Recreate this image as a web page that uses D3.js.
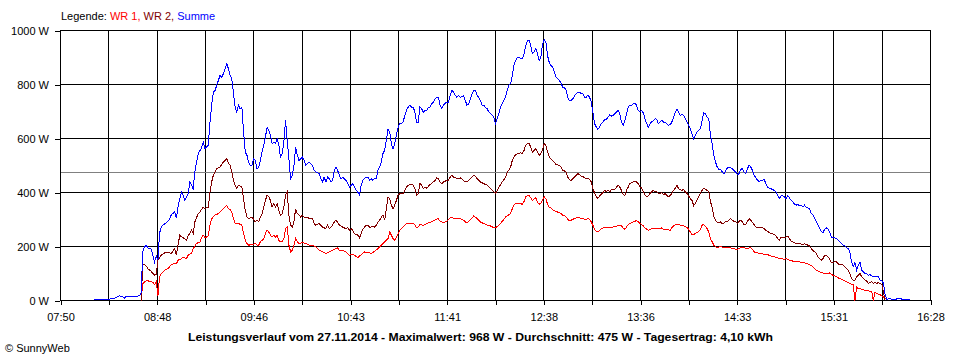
<!DOCTYPE html>
<html>
<head>
<meta charset="utf-8">
<script src="https://cdn.jsdelivr.net/npm/d3@7"></script>
<style>
  body { margin: 0; background: #fff; }
  svg { display: block; font-family: "Liberation Sans", Arial, sans-serif; font-size: 11px; }
  .grid line { stroke: #000; shape-rendering: crispEdges; }
  .axis path, .axis line { stroke: #000; shape-rendering: crispEdges; }
  .axis text { fill: #000; font-family: "Liberation Sans", Arial, sans-serif; font-size: 11px; }
  .trace { fill: none; stroke-width: 1; shape-rendering: crispEdges; }
</style>
</head>
<body>
<div id="chart"></div>
<script>
const seriesNames = ['WR 1', 'WR 2', 'Summe'];
const xTickLabels = ['07:50', '08:48', '09:46', '10:43', '11:41', '12:38', '13:36', '14:33', '15:31', '16:28'];
const yTicks = [0, 200, 400, 600, 800, 1000];
const averageWatts = 475;
const titleText = 'Leistungsverlauf vom 27.11.2014 - Maximalwert: 968 W - Durchschnitt: 475 W - Tagesertrag: 4,10 kWh';

// WR 1 (time, watts).
const wr1 = [["08:38",0],["08:39",63],["08:40",68],["08:41",73],["08:42",73],["08:44",69],["08:45",67],["08:46",59],["08:47",69],["08:48",17],["08:49",88],["08:50",100],["08:52",112],["08:54",118],["08:56",133],["08:58",137],["08:59",136],["09:00",149],["09:02",155],["09:03",160],["09:05",155],["09:06",168],["09:08",176],["09:09",192],["09:11",211],["09:13",217],["09:14",232],["09:15",242],["09:16",232],["09:18",239],["09:19",279],["09:20",303],["09:22",316],["09:24",322],["09:26",334],["09:28",346],["09:29",353],["09:30",340],["09:31",338],["09:32",328],["09:33",303],["09:34",285],["09:36",285],["09:38",279],["09:39",248],["09:40",223],["09:41",211],["09:42",205],["09:44",207],["09:46",211],["09:47",205],["09:48",205],["09:49",217],["09:50",223],["09:51",229],["09:52",248],["09:53",260],["09:54",254],["09:55",242],["09:56",235],["09:57",242],["09:58",235],["09:59",242],["10:00",223],["10:01",217],["10:02",219],["10:03",229],["10:04",266],["10:05",272],["10:06",205],["10:07",180],["10:08",186],["10:09",205],["10:10",229],["10:11",217],["10:12",211],["10:14",215],["10:16",211],["10:18",205],["10:20",205],["10:22",199],["10:24",186],["10:26",180],["10:28",174],["10:30",180],["10:32",186],["10:34",192],["10:35",195],["10:36",186],["10:38",186],["10:40",180],["10:41",174],["10:42",168],["10:43",170],["10:45",168],["10:47",159],["10:48",164],["10:49",170],["10:51",180],["10:53",178],["10:55",174],["10:57",182],["10:59",192],["11:01",205],["11:03",217],["11:05",229],["11:06",254],["11:07",242],["11:08",229],["11:09",223],["11:10",235],["11:11",248],["11:12",260],["11:14",272],["11:15",279],["11:16",285],["11:18",287],["11:20",285],["11:21",281],["11:22",269],["11:23",272],["11:24",281],["11:26",279],["11:28",285],["11:30",289],["11:32",295],["11:34",301],["11:35",303],["11:36",293],["11:38",289],["11:40",293],["11:42",306],["11:43",309],["11:44",303],["11:46",303],["11:48",303],["11:50",297],["11:51",291],["11:52",289],["11:53",293],["11:54",299],["11:55",306],["11:56",313],["11:57",309],["11:58",303],["12:00",291],["12:02",285],["12:04",279],["12:06",276],["12:08",270],["12:09",269],["12:11",279],["12:13",293],["12:15",309],["12:17",318],["12:18",322],["12:19",340],["12:20",353],["12:21",359],["12:22",361],["12:23",359],["12:24",359],["12:25",356],["12:26",367],["12:27",384],["12:28",388],["12:29",388],["12:30",380],["12:31",371],["12:32",377],["12:33",380],["12:34",365],["12:35",356],["12:36",361],["12:37",371],["12:38",384],["12:39",377],["12:40",356],["12:41",346],["12:42",342],["12:43",336],["12:44",334],["12:45",330],["12:47",325],["12:48",322],["12:49",316],["12:50",316],["12:51",309],["12:52",301],["12:53",295],["12:54",297],["12:55",301],["12:56",303],["12:57",306],["12:58",307],["12:59",306],["13:00",303],["13:01",303],["13:02",301],["13:03",301],["13:04",303],["13:05",301],["13:06",291],["13:07",279],["13:08",264],["13:09",256],["13:10",254],["13:11",260],["13:12",266],["13:13",269],["13:15",269],["13:17",272],["13:19",272],["13:21",275],["13:22",279],["13:23",279],["13:24",276],["13:25",269],["13:26",264],["13:27",272],["13:28",281],["13:29",285],["13:30",289],["13:31",291],["13:32",293],["13:33",297],["13:34",291],["13:35",285],["13:36",282],["13:37",276],["13:38",269],["13:39",264],["13:40",260],["13:41",264],["13:43",266],["13:45",266],["13:47",266],["13:48",269],["13:49",264],["13:51",264],["13:53",260],["13:54",269],["13:55",276],["13:56",281],["13:57",283],["13:58",281],["13:59",279],["14:01",276],["14:03",270],["14:04",264],["14:05",254],["14:06",245],["14:07",244],["14:08",248],["14:09",252],["14:10",256],["14:11",264],["14:12",279],["14:13",281],["14:14",275],["14:15",266],["14:16",254],["14:17",229],["14:18",217],["14:19",205],["14:20",199],["14:21",196],["14:23",201],["14:25",195],["14:27",197],["14:29",195],["14:31",192],["14:33",189],["14:35",195],["14:37",195],["14:39",192],["14:40",195],["14:41",195],["14:42",189],["14:43",180],["14:45",176],["14:47",174],["14:49",171],["14:51",170],["14:53",165],["14:55",162],["14:57",158],["14:59",155],["15:01",153],["15:02",155],["15:04",149],["15:06",146],["15:08",143],["15:10",143],["15:12",141],["15:14",137],["15:16",133],["15:18",125],["15:20",112],["15:22",106],["15:24",102],["15:26",100],["15:28",102],["15:29",96],["15:31",91],["15:33",84],["15:35",79],["15:37",72],["15:39",67],["15:41",59],["15:42",59],["15:43",0],["15:44",51],["15:45",44],["15:47",42],["15:49",38],["15:51",36],["15:53",32],["15:54",0],["15:55",32],["15:56",26],["15:58",22],["15:59",17],["16:00",14],["16:01",7],["16:02",3]];

// WR 2.
const wr2 = [["08:38",0],["08:39",131],["08:40",133],["08:41",128],["08:42",118],["08:44",108],["08:45",100],["08:46",94],["08:47",95],["08:48",149],["08:50",168],["08:52",176],["08:54",180],["08:56",174],["08:58",192],["08:59",168],["09:00",205],["09:01",242],["09:02",236],["09:04",229],["09:05",223],["09:06",239],["09:08",260],["09:09",248],["09:10",291],["09:12",322],["09:13",328],["09:15",346],["09:16",340],["09:18",346],["09:19",402],["09:20",439],["09:21",464],["09:23",488],["09:25",494],["09:27",513],["09:29",525],["09:30",507],["09:31",501],["09:32",476],["09:33",445],["09:34",427],["09:35",414],["09:36",427],["09:38",420],["09:39",377],["09:40",334],["09:41",309],["09:42",303],["09:44",309],["09:46",291],["09:47",297],["09:48",291],["09:49",309],["09:50",322],["09:51",346],["09:52",371],["09:53",390],["09:54",384],["09:55",371],["09:56",346],["09:57",358],["09:58",346],["09:59",358],["10:00",334],["10:01",316],["10:02",322],["10:03",346],["10:04",390],["10:05",402],["10:06",316],["10:07",279],["10:08",272],["10:09",291],["10:10",340],["10:11",322],["10:12",316],["10:13",309],["10:14",316],["10:15",309],["10:16",309],["10:17",309],["10:18",303],["10:20",303],["10:21",285],["10:22",279],["10:24",285],["10:25",279],["10:26",272],["10:28",266],["10:29",279],["10:30",266],["10:31",272],["10:32",279],["10:33",291],["10:34",297],["10:35",291],["10:36",279],["10:38",272],["10:40",266],["10:41",272],["10:42",260],["10:43",266],["10:44",260],["10:45",248],["10:47",242],["10:48",232],["10:49",248],["10:50",264],["10:51",272],["10:52",279],["10:53",279],["10:54",272],["10:55",272],["10:56",275],["10:57",272],["10:58",279],["10:59",291],["11:00",297],["11:01",309],["11:02",316],["11:03",297],["11:04",340],["11:05",384],["11:06",377],["11:07",353],["11:08",340],["11:09",353],["11:10",371],["11:11",390],["11:12",396],["11:14",396],["11:15",408],["11:16",420],["11:17",427],["11:18",429],["11:19",430],["11:20",427],["11:21",414],["11:22",390],["11:23",396],["11:24",433],["11:25",429],["11:26",414],["11:27",420],["11:28",416],["11:30",429],["11:31",433],["11:33",445],["11:34",454],["11:35",451],["11:36",439],["11:37",433],["11:38",439],["11:40",445],["11:41",445],["11:42",457],["11:43",464],["11:44",457],["11:45",457],["11:46",451],["11:48",454],["11:50",445],["11:51",439],["11:52",439],["11:53",445],["11:54",451],["11:55",457],["11:56",464],["11:57",461],["11:58",451],["12:00",439],["12:02",433],["12:04",427],["12:06",414],["12:07",408],["12:08",402],["12:09",396],["12:10",408],["12:11",420],["12:12",429],["12:13",439],["12:14",448],["12:15",457],["12:16",476],["12:17",482],["12:18",494],["12:19",519],["12:20",532],["12:21",540],["12:22",544],["12:23",544],["12:24",547],["12:25",544],["12:26",556],["12:27",575],["12:28",581],["12:29",581],["12:30",569],["12:31",550],["12:32",556],["12:33",562],["12:34",550],["12:35",538],["12:36",544],["12:37",556],["12:38",581],["12:39",575],["12:40",550],["12:41",532],["12:42",525],["12:43",519],["12:44",513],["12:45",503],["12:47",501],["12:48",494],["12:49",482],["12:50",480],["12:51",476],["12:52",457],["12:53",448],["12:54",445],["12:55",451],["12:56",456],["12:57",464],["12:58",470],["12:59",466],["13:00",461],["13:01",461],["13:02",454],["13:03",451],["13:04",454],["13:05",448],["13:06",439],["13:07",414],["13:08",398],["13:09",385],["13:10",378],["13:11",388],["13:12",394],["13:13",400],["13:14",408],["13:15",403],["13:16",408],["13:17",403],["13:18",410],["13:19",410],["13:20",411],["13:21",420],["13:22",427],["13:23",420],["13:24",408],["13:25",392],["13:26",390],["13:27",408],["13:28",420],["13:29",433],["13:30",436],["13:31",439],["13:32",441],["13:33",439],["13:34",433],["13:35",420],["13:36",416],["13:37",402],["13:38",390],["13:39",384],["13:40",388],["13:41",396],["13:42",402],["13:43",408],["13:44",403],["13:45",402],["13:46",396],["13:47",396],["13:48",400],["13:49",392],["13:50",396],["13:51",390],["13:52",384],["13:53",390],["13:54",396],["13:55",408],["13:56",416],["13:57",427],["13:58",414],["13:59",411],["14:00",408],["14:01",411],["14:02",402],["14:03",396],["14:04",388],["14:05",377],["14:06",371],["14:07",351],["14:08",359],["14:09",371],["14:10",384],["14:11",396],["14:12",408],["14:13",416],["14:14",411],["14:15",408],["14:16",402],["14:17",365],["14:18",346],["14:19",309],["14:20",297],["14:21",291],["14:22",289],["14:23",291],["14:24",285],["14:25",287],["14:26",293],["14:27",291],["14:28",299],["14:29",303],["14:30",297],["14:31",293],["14:32",291],["14:33",285],["14:34",293],["14:35",297],["14:36",291],["14:37",281],["14:38",281],["14:39",293],["14:40",303],["14:41",297],["14:42",289],["14:43",281],["14:44",272],["14:45",272],["14:46",272],["14:47",269],["14:48",269],["14:49",266],["14:50",260],["14:51",256],["14:52",252],["14:53",248],["14:54",248],["14:55",244],["14:56",239],["14:57",229],["14:58",223],["14:59",233],["15:00",235],["15:01",232],["15:02",235],["15:03",239],["15:04",229],["15:05",219],["15:06",217],["15:07",215],["15:08",211],["15:10",211],["15:12",207],["15:13",211],["15:14",207],["15:15",205],["15:16",202],["15:17",192],["15:18",186],["15:19",180],["15:20",174],["15:21",162],["15:22",155],["15:23",149],["15:24",155],["15:25",168],["15:26",168],["15:27",162],["15:28",153],["15:29",141],["15:30",141],["15:31",143],["15:32",143],["15:33",136],["15:34",133],["15:35",133],["15:36",131],["15:37",125],["15:38",118],["15:39",112],["15:40",100],["15:41",81],["15:42",75],["15:43",75],["15:44",88],["15:45",94],["15:46",100],["15:47",88],["15:48",81],["15:49",75],["15:50",72],["15:51",63],["15:52",67],["15:53",69],["15:54",63],["15:55",67],["15:56",63],["15:57",67],["15:58",63],["15:59",60],["16:00",32],["16:01",0]];

// Summe.
const summe = [["08:10",4],["08:16",4],["08:19",4],["08:20",7],["08:23",10],["08:25",17],["08:27",15],["08:28",8],["08:29",14],["08:32",15],["08:35",16],["08:37",17],["08:38",28],["08:39",180],["08:40",198],["08:41",205],["08:42",195],["08:44",190],["08:45",168],["08:46",143],["08:47",165],["08:48",150],["08:49",250],["08:50",272],["08:51",279],["08:53",288],["08:55",301],["08:56",318],["08:58",328],["08:59",306],["09:00",346],["09:01",377],["09:02",402],["09:03",390],["09:04",371],["09:06",396],["09:07",439],["09:09",414],["09:10",476],["09:11",513],["09:12",544],["09:14",565],["09:15",587],["09:16",562],["09:18",575],["09:19",661],["09:20",723],["09:21",772],["09:22",778],["09:23",797],["09:24",815],["09:25",834],["09:26",827],["09:27",840],["09:28",858],["09:29",877],["09:30",858],["09:31",834],["09:32",821],["09:33",766],["09:34",716],["09:35",698],["09:36",723],["09:37",710],["09:38",716],["09:39",624],["09:40",550],["09:41",538],["09:42",513],["09:43",501],["09:44",501],["09:45",525],["09:46",519],["09:47",488],["09:48",494],["09:49",519],["09:50",550],["09:51",575],["09:52",605],["09:53",642],["09:54",630],["09:55",612],["09:56",581],["09:57",587],["09:58",581],["09:59",599],["10:00",575],["10:01",531],["10:02",544],["10:03",587],["10:04",667],["10:05",593],["10:06",525],["10:07",451],["10:08",464],["10:09",501],["10:10",568],["10:11",538],["10:12",519],["10:13",525],["10:14",531],["10:15",519],["10:16",501],["10:17",507],["10:18",513],["10:19",507],["10:20",501],["10:21",482],["10:22",476],["10:24",470],["10:25",451],["10:26",439],["10:27",457],["10:28",439],["10:29",457],["10:30",451],["10:31",439],["10:32",445],["10:33",482],["10:34",494],["10:35",482],["10:36",464],["10:37",451],["10:38",457],["10:40",445],["10:41",433],["10:42",420],["10:44",433],["10:45",420],["10:46",408],["10:47",402],["10:48",390],["10:49",427],["10:50",445],["10:52",457],["10:53",457],["10:54",445],["10:55",451],["10:56",445],["10:57",451],["10:58",451],["10:59",482],["11:00",494],["11:01",513],["11:02",544],["11:03",556],["11:04",593],["11:05",636],["11:06",624],["11:07",581],["11:08",562],["11:09",581],["11:10",612],["11:11",642],["11:12",654],["11:13",654],["11:14",661],["11:15",686],["11:16",704],["11:17",716],["11:18",723],["11:19",716],["11:20",716],["11:21",698],["11:22",661],["11:23",661],["11:24",716],["11:25",710],["11:26",698],["11:27",704],["11:28",704],["11:29",716],["11:30",716],["11:31",728],["11:32",735],["11:33",747],["11:34",753],["11:35",753],["11:36",723],["11:37",710],["11:38",723],["11:39",730],["11:40",735],["11:41",735],["11:42",760],["11:43",778],["11:44",772],["11:45",760],["11:46",753],["11:47",760],["11:48",753],["11:49",755],["11:50",760],["11:51",741],["11:52",723],["11:53",728],["11:54",747],["11:55",766],["11:56",778],["11:57",778],["11:58",760],["11:59",753],["12:00",741],["12:01",723],["12:02",723],["12:03",716],["12:04",710],["12:05",698],["12:06",692],["12:07",686],["12:08",679],["12:09",655],["12:10",673],["12:11",692],["12:12",716],["12:13",729],["12:14",741],["12:15",753],["12:16",778],["12:17",797],["12:18",803],["12:19",834],["12:20",871],["12:21",889],["12:22",901],["12:23",901],["12:24",897],["12:25",895],["12:26",914],["12:27",944],["12:28",963],["12:29",963],["12:30",944],["12:31",914],["12:32",920],["12:33",932],["12:34",914],["12:35",889],["12:36",901],["12:37",950],["12:38",966],["12:39",957],["12:40",907],["12:41",882],["12:42",870],["12:43",864],["12:44",846],["12:45",827],["12:46",821],["12:47",815],["12:48",806],["12:49",790],["12:50",790],["12:51",778],["12:52",753],["12:53",741],["12:54",741],["12:55",747],["12:56",757],["12:57",766],["12:58",772],["12:59",772],["13:00",766],["13:01",766],["13:02",753],["13:03",753],["13:04",760],["13:05",753],["13:06",735],["13:07",698],["13:08",655],["13:09",642],["13:10",634],["13:11",642],["13:12",655],["13:13",661],["13:14",671],["13:15",671],["13:16",679],["13:17",688],["13:18",683],["13:19",686],["13:20",692],["13:21",698],["13:22",704],["13:23",692],["13:24",661],["13:25",649],["13:26",667],["13:27",692],["13:28",716],["13:29",724],["13:30",722],["13:31",728],["13:32",732],["13:33",722],["13:34",704],["13:35",700],["13:36",704],["13:37",695],["13:38",673],["13:39",655],["13:40",642],["13:41",655],["13:42",661],["13:43",667],["13:44",673],["13:45",671],["13:46",655],["13:47",661],["13:48",667],["13:49",661],["13:50",661],["13:51",655],["13:52",649],["13:53",651],["13:54",661],["13:55",679],["13:56",698],["13:57",708],["13:58",698],["13:59",686],["14:00",688],["14:01",686],["14:02",673],["14:03",661],["14:04",649],["14:05",636],["14:06",618],["14:07",599],["14:08",612],["14:09",624],["14:10",630],["14:11",636],["14:12",667],["14:13",695],["14:14",692],["14:15",679],["14:16",673],["14:17",612],["14:18",581],["14:19",538],["14:20",513],["14:21",494],["14:22",486],["14:23",486],["14:24",476],["14:25",470],["14:26",479],["14:27",491],["14:28",494],["14:29",491],["14:30",488],["14:31",482],["14:32",476],["14:33",466],["14:34",470],["14:35",486],["14:36",488],["14:37",476],["14:38",470],["14:39",488],["14:40",501],["14:41",494],["14:42",482],["14:43",464],["14:44",454],["14:45",445],["14:46",441],["14:47",445],["14:48",445],["14:49",448],["14:50",433],["14:51",420],["14:52",416],["14:53",414],["14:54",411],["14:55",408],["14:56",403],["14:57",390],["14:58",377],["14:59",388],["15:00",388],["15:01",384],["15:02",377],["15:03",390],["15:04",380],["15:05",371],["15:06",365],["15:07",358],["15:08",353],["15:09",356],["15:10",351],["15:11",353],["15:12",346],["15:13",353],["15:14",346],["15:15",343],["15:16",340],["15:17",322],["15:18",316],["15:19",306],["15:20",291],["15:21",279],["15:22",266],["15:23",256],["15:24",252],["15:25",264],["15:26",269],["15:27",264],["15:28",254],["15:29",235],["15:30",233],["15:31",232],["15:32",229],["15:33",223],["15:34",217],["15:35",211],["15:36",205],["15:37",202],["15:38",195],["15:39",192],["15:40",180],["15:41",143],["15:42",125],["15:43",141],["15:44",113],["15:45",131],["15:46",143],["15:47",113],["15:48",106],["15:49",100],["15:50",100],["15:51",94],["15:52",96],["15:53",91],["15:54",88],["15:55",91],["15:56",88],["15:57",88],["15:58",75],["15:59",75],["16:00",63],["16:01",20],["16:02",5],["16:04",7],["16:05",5],["16:07",5],["16:10",7],["16:11",5],["16:16",4]];

function createChart(el) {
  const width = 960;
  const height = 360;
  const left = 60, right = 930, top = 30, bottom = 300;
  const colors = ['#ff0000', '#800000', '#0000ff'];

  let parse = d3.timeParse('%H:%M');
  let start = parse(xTickLabels[0]);
  let end = parse(xTickLabels[xTickLabels.length - 1]);

  // Clear chart.
  d3.select(el).html(null);

  let svg = d3.select(el)
    .append('svg')
    .attr('width', width)
    .attr('height', height);

  svg.append('rect')
    .attr('width', width)
    .attr('height', height)
    .attr('fill', '#fff');

  let x = d3.scaleTime().domain([start, end]).range([left + 0.5, right + 0.5]);
  let y = d3.scaleLinear().domain([0, 1000]).range([bottom + 0.5, top + 0.5]);

  // 18 equal steps between first and last label, labelled every other one.
  let gridTimes = d3.range(19).map(i => new Date(+start + i * (end - start) / 18));

  let grid = svg.append('g').attr('class', 'grid');

  grid.selectAll('line.h')
    .data(yTicks)
    .enter()
    .append('line')
      .attr('class', 'h')
      .attr('x1', left)
      .attr('x2', right + 1)
      .attr('y1', d => y(d))
      .attr('y2', d => y(d));

  grid.selectAll('line.v')
    .data(gridTimes)
    .enter()
    .append('line')
      .attr('class', 'v')
      .attr('x1', d => x(d))
      .attr('x2', d => x(d))
      .attr('y1', top)
      .attr('y2', bottom);

  // Average line.
  svg.append('line')
    .attr('x1', left + 1)
    .attr('x2', right)
    .attr('y1', y(averageWatts))
    .attr('y2', y(averageWatts))
    .attr('stroke', '#808080')
    .attr('shape-rendering', 'crispEdges');

  let xAxis = d3.axisBottom(x)
    .tickValues(gridTimes)
    .tickSize(5)
    .tickSizeOuter(0)
    .tickPadding(8)
    .tickFormat((d, i) => i % 2 === 0 ? xTickLabels[i / 2] : '');

  let yAxis = d3.axisLeft(y)
    .tickValues(yTicks)
    .tickSize(5)
    .tickSizeOuter(0)
    .tickPadding(6)
    .tickFormat(d => `${d} W`);

  svg.append('g')
    .attr('class', 'axis')
    .attr('transform', `translate(0,${bottom})`)
    .call(xAxis);

  svg.append('g')
    .attr('class', 'axis')
    .attr('transform', `translate(${left},0)`)
    .call(yAxis);

  // Traces: WR 1, WR 2, then Summe on top.
  let line = d3.line()
    .x(d => x(parse(d[0])))
    .y(d => y(d[1]));

  svg.selectAll('path.trace')
    .data([wr1, wr2, summe])
    .enter()
    .append('path')
      .attr('class', 'trace')
      .attr('stroke', (d, i) => colors[i])
      .attr('d', line);

  // Legend.
  let legend = svg.append('text')
    .attr('x', 61)
    .attr('y', 20);
  legend.append('tspan').attr('fill', '#000').text('Legende: ');
  seriesNames.forEach((name, i) => {
    legend.append('tspan')
      .attr('fill', colors[i])
      .text(i < seriesNames.length - 1 ? `${name}, ` : name);
  });

  svg.append('text')
    .attr('x', 188)
    .attr('y', 341)
    .attr('font-weight', 'bold')
    .attr('textLength', 585)
    .attr('lengthAdjust', 'spacingAndGlyphs')
    .text(titleText);

  svg.append('text')
    .attr('x', 5)
    .attr('y', 352)
    .text('\u00a9 SunnyWeb');
}

createChart('#chart');
</script>
</body>
</html>
